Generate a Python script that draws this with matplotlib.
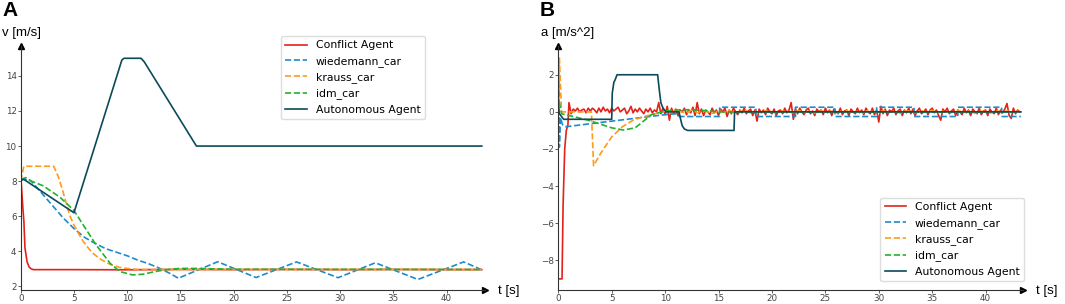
import numpy as np
import matplotlib.pyplot as plt

# colours of the five agents
c_conf = '#e2231a'
c_wied = '#1f8bcc'
c_krau = '#ff9a1f'
c_idm = '#21b32b'
c_auto = '#0b4a5a'

labels = ['Conflict Agent', 'wiedemann_car', 'krauss_car', 'idm_car', 'Autonomous Agent']

# ---------------- velocity (panel A) ----------------
conf_v_t = [0, 0.05, 0.2, 0.3, 0.4, 0.6, 0.8, 1.0, 1.2, 5, 10, 15, 20, 25, 30, 35, 40, 43.3]
conf_v = [8.0, 7.9, 6.5, 5.7, 4.2, 3.4, 3.1, 3.0, 2.96, 2.96, 2.95, 2.97, 2.96, 2.97, 2.96, 2.97, 2.96, 2.96]

wied_v_t = [0, 0.5, 1, 2, 3, 4, 5, 6, 7, 8, 9, 10, 11, 12, 13, 14, 14.8,
            18.5, 22.1, 25.9, 29.8, 33.3, 37.3, 41.6, 43.3]
wied_v = [8.1, 8.2, 8.0, 7.3, 6.6, 5.9, 5.3, 4.8, 4.45, 4.15, 3.95, 3.75, 3.5, 3.3, 3.05, 2.75, 2.47,
          3.41, 2.51, 3.4, 2.5, 3.35, 2.4, 3.4, 2.95]

krau_v_t = [0, 0.3, 3.1, 3.5, 3.9, 4.3, 4.6, 5.0, 5.5, 5.9, 6.4, 6.8, 7.5, 8.4, 9.2, 9.9, 11, 43.3]
krau_v = [8.0, 8.85, 8.85, 8.3, 7.55, 6.7, 6.05, 5.5, 4.95, 4.54, 4.15, 3.88, 3.55, 3.26, 3.1, 3.03, 2.97, 2.97]

idm_v_t = [0, 0.5, 1, 2.1, 3.7, 5, 5.9, 7.1, 8.4, 9.3, 10.5, 11.5, 12.4, 13.5, 15, 16.5, 20, 43.3]
idm_v = [8.1, 8.1, 8.0, 7.74, 7.08, 6.33, 5.48, 4.35, 3.32, 2.85, 2.66, 2.7, 2.82, 2.95, 3.03, 3.03, 2.98, 2.97]

auto_v_t = [0, 0.3, 5.0, 9.5, 9.7, 11.3, 11.6, 16.5, 43.3]
auto_v = [8.05, 8.1, 6.2, 14.9, 15.0, 15.0, 14.8, 10.0, 10.0]

# ---------------- acceleration (panel B) ----------------
conf_a_start_t = [0, 0.35, 0.45, 0.6, 0.75, 0.9]
conf_a_start = [-9.0, -9.0, -5.0, -2.0, -1.0, -0.7]
# sampled every 0.2 s from t = 1.0 s
conf_a_noise = [
    0.5, -0.1, 0.15, 0.05, 0.2, 0.0, 0.1, 0.15, -0.05, 0.2,
    0.05, 0.2, 0.1, -0.05, 0.2, 0.0, 0.25, 0.05, 0.15, -0.05,
    0.2, 0.05, 0.15, 0.25, 0.0, 0.1, 0.2, -0.1, 0.05, 0.3,
    -0.05, 0.15, 0.0, 0.2, 0.05, -0.1, 0.15, 0.0, 0.2, -0.05,
    0.1, 0.0, 0.5, -0.1, 0.2, -0.15, 0.3, -0.45, 0.2, -0.1,
    0.15, -0.2, 0.1, 0.0, 0.2, -0.15, 0.1, -0.05, 0.25, -0.2,
    0.5, -0.1, 0.15, -0.2, 0.1, 0.0, -0.15, 0.2, -0.05, 0.1,
    -0.2, 0.15, 0.0, 0.2, -0.25, 0.1, -0.1, 0.2, 0.0, -0.15,
    0.1, -0.05, 0.2, -0.1, 0.05, 0.15, -0.2, 0.1, -0.5, 0.15,
    -0.05, 0.1, -0.15, 0.2, 0.0, -0.1, 0.15, -0.2, 0.05, 0.1,
    -0.1, 0.2, -0.05, 0.1, 0.5, -0.4, 0.15, -0.1, 0.2, 0.0,
    -0.15, 0.1, 0.2, -0.1, 0.05, -0.2, 0.15, 0.0, 0.1, -0.15,
    0.2, -0.05, 0.1, -0.2, 0.15, 0.0, -0.1, 0.2, -0.15, 0.05,
    0.1, -0.2, 0.15, 0.0, -0.1, 0.2, -0.05, 0.1, -0.15, 0.2,
    0.0, -0.1, 0.2, -0.15, 0.1, -0.55, 0.3, -0.1, 0.15, -0.2,
    0.1, 0.0, 0.2, -0.15, 0.05, 0.15, -0.2, 0.1, -0.05, 0.2,
    -0.1, 0.15, -0.2, 0.05, 0.2, -0.1, 0.0, 0.15, -0.15, 0.1,
    0.2, -0.05, 0.1, -0.2, -0.45, 0.15, 0.0, 0.2, -0.1, 0.05,
    0.15, -0.2, 0.1, 0.0, -0.15, 0.2, -0.05, 0.1, -0.2, 0.15,
    0.0, -0.1, 0.2, -0.15, 0.05, 0.1, -0.2, 0.15, 0.0, -0.1,
    0.2, -0.15, 0.1, -0.05, 0.15, 0.45, -0.2, -0.35, 0.2, -0.1,
    0.1, 0.0]

wied_a_t = [0, 0.05, 0.1, 0.2, 0.4, 0.7, 10.0, 11.0, 11.3, 15.1, 15.1, 18.5, 18.5, 22.2, 22.2,
            25.9, 25.9, 29.8, 29.8, 33.3, 33.3, 37.4, 37.4, 41.5, 41.5, 43.3]
wied_a = [0, 2.0, -1.9, -0.3, -0.7, -0.8, -0.15, -0.1, -0.25, -0.25, 0.25, 0.25, -0.25, -0.25, 0.25,
          0.25, -0.25, -0.25, 0.25, 0.25, -0.25, -0.25, 0.25, 0.25, -0.25, -0.25]

krau_a_t = [0, 0.1, 0.3, 3.1, 3.3, 4, 5, 6, 7, 8, 9]
krau_a = [0, 2.9, 0, 0, -2.9, -2.2, -1.35, -0.8, -0.45, -0.25, -0.12]
# sampled every 0.5 s from t = 10 s
krau_a_noise = [
    0.05, -0.05, 0.08, 0.0, -0.06, 0.1, -0.04, 0.05, 0.0, -0.08,
    0.06, -0.02, 0.07, -0.05, 0.03, 0.09, -0.06, 0.02, -0.04, 0.08,
    0.0, -0.07, 0.05, 0.02, -0.05, 0.07, -0.03, 0.04, -0.06, 0.08,
    -0.02, 0.05, -0.08, 0.03, 0.06, -0.04, 0.02, -0.06, 0.07, 0.0,
    -0.05, 0.08, -0.03, 0.04, -0.07, 0.05, 0.02, -0.04, 0.06, -0.02,
    0.08, -0.06, 0.03, 0.0, -0.05, 0.07, -0.03, 0.05, -0.08, 0.04,
    0.02, -0.06, 0.08, -0.02, 0.05, -0.04, 0.03]

idm_a_t = [0, 0.1, 0.3, 1.25, 2.8, 5, 6.1, 7.2, 8.75, 10, 11, 12.5, 14, 15, 43.3]
idm_a = [0, 0.5, -0.1, -0.23, -0.45, -0.86, -0.98, -0.86, -0.14, 0.04, 0.1, 0.12, 0.05, 0.0, 0.0]

auto_a_t = [0, 0.1, 0.5, 5.0, 5.05, 5.2, 5.3, 5.5, 9.3, 9.45, 9.6, 9.8, 10.1, 11.3, 11.45,
            11.6, 11.8, 12.1, 16.45, 16.5, 43.3]
auto_a = [0.2, -0.1, -0.4, -0.4, 1.0, 1.6, 1.7, 2.0, 2.0, 1.2, 0.5, 0.2, 0.0, 0.0, -0.4,
          -0.75, -0.92, -1.0, -1.0, 0.0, 0.0]

conf_a_t = conf_a_start_t + list(1.0 + 0.2 * np.arange(len(conf_a_noise)))
conf_a = conf_a_start + conf_a_noise
krau_a_t = krau_a_t + list(10.0 + 0.5 * np.arange(len(krau_a_noise))) + [43.3]
krau_a = krau_a + krau_a_noise + [0.0]

W, H = 1065, 304
fig = plt.figure(figsize=(W / 100, H / 100), dpi=100)
axA = fig.add_axes([20.7 / W, 1 - 290 / H, (485 - 20.7) / W, (290 - 46) / H])
axB = fig.add_axes([558.3 / W, 1 - 290 / H, (1023 - 558.3) / W, (290 - 46) / H])


def style(ax):
    for s in ['top', 'right']:
        ax.spines[s].set_visible(False)
    for s in ['left', 'bottom']:
        ax.spines[s].set_color('#333333')
        ax.spines[s].set_linewidth(0.8)
    ax.tick_params(labelsize=6.3, colors='#444444', length=2, width=0.6, pad=1)
    ax.plot(1, 0, '>', color='black', ms=4, transform=ax.transAxes, clip_on=False)
    ax.plot(0, 1, '^', color='black', ms=4, transform=ax.transAxes, clip_on=False)


lw = 1.2
axA.plot(conf_v_t, conf_v, color=c_conf, lw=lw, label=labels[0])
axA.plot(wied_v_t, wied_v, '--', color=c_wied, lw=lw, label=labels[1])
axA.plot(krau_v_t, krau_v, '--', color=c_krau, lw=lw, label=labels[2])
axA.plot(idm_v_t, idm_v, '--', color=c_idm, lw=lw, label=labels[3])
axA.plot(auto_v_t, auto_v, color=c_auto, lw=lw, label=labels[4])
axA.set_xlim(0, 43.6)
axA.set_ylim(1.8, 15.7)
axA.set_xticks([0, 5, 10, 15, 20, 25, 30, 35, 40])
axA.set_yticks([2, 4, 6, 8, 10, 12, 14])
style(axA)

axB.plot(conf_a_t, conf_a, color=c_conf, lw=lw, label=labels[0])
axB.plot(wied_a_t, wied_a, '--', color=c_wied, lw=lw, label=labels[1])
axB.plot(krau_a_t, krau_a, '--', color=c_krau, lw=lw, label=labels[2])
axB.plot(idm_a_t, idm_a, '--', color=c_idm, lw=lw, label=labels[3])
axB.plot(auto_a_t, auto_a, color=c_auto, lw=lw, label=labels[4])
axB.set_xlim(0, 43.5)
axB.set_ylim(-9.6, 3.55)
axB.set_xticks([0, 5, 10, 15, 20, 25, 30, 35, 40])
axB.set_yticks([-8, -6, -4, -2, 0, 2])
style(axB)

leg_kw = dict(fontsize=7.8, framealpha=1, edgecolor='#dddddd', borderaxespad=0,
              bbox_transform=fig.transFigure, handlelength=2.0, labelspacing=0.5)
axA.legend(loc='upper left', bbox_to_anchor=(281 / W, 1 - 36 / H), **leg_kw)
axB.legend(loc='lower right', bbox_to_anchor=(1024 / W, 1 - 281 / H), **leg_kw)

# panel letters and axis names
lab_font = ['Liberation Sans', 'DejaVu Sans']
fig.text(2 / W, 1 - 1 / H, 'A', fontsize=15, fontweight='bold', va='top', family=lab_font)
fig.text(540 / W, 1 - 1 / H, 'B', fontsize=15, fontweight='bold', va='top', family=lab_font)
fig.text(2 / W, 1 - 33 / H, 'v [m/s]', fontsize=9.5, va='center', family=lab_font)
fig.text(541 / W, 1 - 33 / H, 'a [m/s^2]', fontsize=9.5, va='center', family=lab_font)
fig.text(498 / W, 1 - 291 / H, 't [s]', fontsize=9.5, va='center', family=lab_font)
fig.text(1036 / W, 1 - 291 / H, 't [s]', fontsize=9.5, va='center', family=lab_font)

fig.savefig('out.png', dpi=100)
